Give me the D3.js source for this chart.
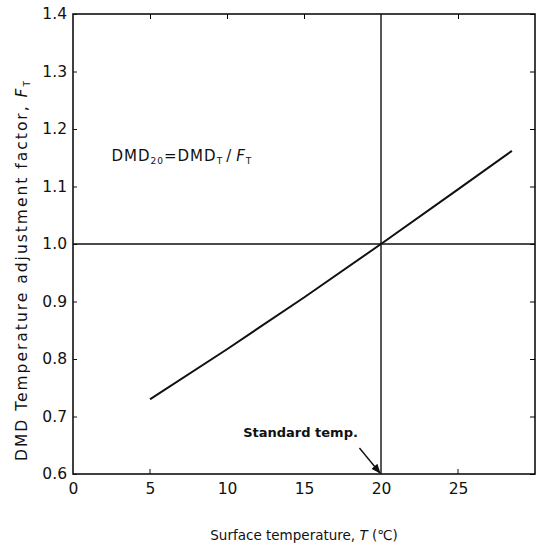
<!DOCTYPE html>
<html>
<head>
<meta charset="utf-8">
<script src="https://cdn.jsdelivr.net/npm/d3@7"></script>
<style>
  body { margin: 0; background: #fff; }
  text { font-family: "DejaVu Sans", sans-serif; fill: #111; }
</style>
</head>
<body>
<div id="chart"></div>
<script>
// values
var temps   = [5, 10, 15, 20, 25, 28.5];
var factors = [0.73, 0.817, 0.907, 1.0, 1.095, 1.162];
var xTicks  = [0, 5, 10, 15, 20, 25];
var yTicks  = [0.6, 0.7, 0.8, 0.9, 1.0, 1.1, 1.2, 1.3, 1.4];
var standardTemp = 20;
var baseFactor = 1.0;

var W = 542, H = 548;
var margin = {top: 14, right: 7, bottom: 74, left: 73},
    width = W - margin.left - margin.right,
    height = H - margin.top - margin.bottom;

var svg = d3.select("#chart").append("svg")
    .attr("width", W)
    .attr("height", H)
  .append("g")
    .attr("transform", "translate(" + margin.left + "," + margin.top + ")");

var x = d3.scaleLinear().domain([0, 30]).range([0, width]);
var y = d3.scaleLinear().domain([0.6, 1.4]).range([height, 0]);

// frame
svg.append("rect")
  .attr("width", width).attr("height", height)
  .attr("fill", "none").attr("stroke", "#111").attr("stroke-width", 1.6);

// left axis: inward ticks + labels
var leftAxis = svg.append("g").call(d3.axisLeft(y).tickValues(yTicks).tickSize(-4).tickPadding(6)
    .tickFormat(d3.format(".1f")));
leftAxis.select(".domain").remove();
leftAxis.selectAll("text").attr("font-size", "15.5px").style("font-family", "DejaVu Sans");
leftAxis.selectAll("line").attr("stroke", "#111");

// right axis: inward ticks
var rightAxis = svg.append("g").attr("transform", "translate(" + width + ",0)")
  .call(d3.axisRight(y).tickValues(yTicks).tickSize(-5).tickFormat(""));
rightAxis.select(".domain").remove();

// bottom axis labels + a couple of inward ticks
var bottomAxis = svg.append("g").attr("transform", "translate(0," + height + ")")
  .call(d3.axisBottom(x).tickValues(xTicks).tickSize(0).tickPadding(9));
bottomAxis.select(".domain").remove();
bottomAxis.selectAll("text").attr("font-size", "15.5px").style("font-family", "DejaVu Sans");
svg.append("g").selectAll("line").data([5, 25]).enter().append("line")
  .attr("x1", function(d) { return x(d); }).attr("x2", function(d) { return x(d); })
  .attr("y1", height).attr("y2", height - 5)
  .attr("stroke", "#111");

// top axis inward ticks
var topAxis = svg.append("g")
  .call(d3.axisTop(x).tickValues([5, 10, 15, 25]).tickSize(-5).tickFormat(""));
topAxis.select(".domain").remove();

// reference lines
svg.append("line")
  .attr("x1", 0).attr("x2", width)
  .attr("y1", y(baseFactor)).attr("y2", y(baseFactor))
  .attr("stroke", "#111").attr("stroke-width", 1.4);
svg.append("line")
  .attr("x1", x(standardTemp)).attr("x2", x(standardTemp))
  .attr("y1", 0).attr("y2", height)
  .attr("stroke", "#111").attr("stroke-width", 1.4);

// the adjustment curve
var pts = temps.map(function(t, i) { return [t, factors[i]]; });
svg.append("path")
  .datum(pts)
  .attr("fill", "none")
  .attr("stroke", "#111")
  .attr("stroke-width", 2)
  .attr("d", d3.line()
    .curve(d3.curveMonotoneX)
    .x(function(d) { return x(d[0]); })
    .y(function(d) { return y(d[1]); }));

// formula
var f = svg.append("text")
  .attr("x", x(2.5)).attr("y", y(1.2) + 32)
  .attr("font-size", "15px")
  .attr("letter-spacing", "1px");
f.append("tspan").text("DMD");
f.append("tspan").text("20").attr("font-size", "9px").attr("dy", 3);
f.append("tspan").text("=DMD").attr("dy", -3);
f.append("tspan").text("T").attr("font-size", "9px").attr("dy", 3);
f.append("tspan").text("/").attr("dy", -3).attr("dx", 3);
f.append("tspan").text("F").attr("dx", 4).attr("font-style", "italic");
f.append("tspan").text("T").attr("font-size", "9px").attr("dy", 3);

// standard temp annotation
svg.append("defs").append("marker")
  .attr("id", "arrow").attr("viewBox", "0 0 10 10")
  .attr("refX", 9).attr("refY", 5)
  .attr("markerWidth", 7).attr("markerHeight", 7)
  .attr("orient", "auto")
  .append("path").attr("d", "M0,1L10,5L0,9z").attr("fill", "#111");

svg.append("text")
  .attr("x", x(18.5)).attr("y", y(0.6) - 37)
  .attr("text-anchor", "end")
  .attr("font-size", "13px")
  .attr("font-weight", "bold")
  .text("Standard temp.");
svg.append("line")
  .attr("x1", x(18.6)).attr("y1", y(0.6) - 26)
  .attr("x2", x(standardTemp) - 1).attr("y2", y(0.6) - 1)
  .attr("stroke", "#111").attr("stroke-width", 1.4)
  .attr("marker-end", "url(#arrow)");

// axis titles
var xt = svg.append("text")
  .attr("x", x(15)).attr("y", height + 66)
  .attr("text-anchor", "middle")
  .attr("font-size", "13.5px");
xt.append("tspan").text("Surface temperature, ");
xt.append("tspan").text("T").attr("font-style", "italic");
xt.append("tspan").text(" (\u2103)");

var yt = svg.append("text")
  .attr("transform", "translate(" + (-46) + "," + (y(1.0) + 26) + ") rotate(-90)")
  .attr("text-anchor", "middle")
  .attr("font-size", "15.5px")
  .attr("letter-spacing", "2px");
yt.append("tspan").text("DMD Temperature adjustment factor, ");
yt.append("tspan").text("F").attr("font-style", "italic");
yt.append("tspan").text("T").attr("font-size", "9px").attr("dy", 3);
</script>
</body>
</html>
